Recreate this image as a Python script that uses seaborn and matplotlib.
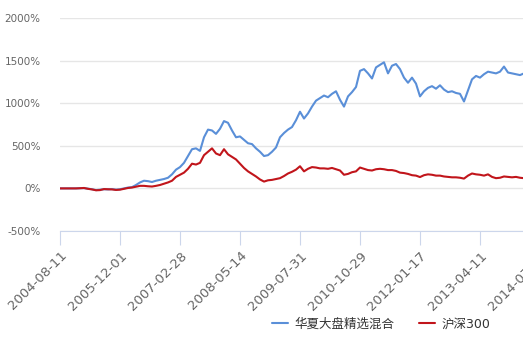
import pandas as pd
import matplotlib
matplotlib.use("Agg")
import matplotlib.pyplot as plt
import seaborn as sns

# cumulative return (%), sampled every ~20 trading days
fund_name = "华夏大盘精选混合"
index_name = "沪深300"
fund_values = [
    0, 0, 0, 0, 0, 2, 3, -3, -10, -20, -15, -10, -12, -8, -15,
    -10, 0, 10, 15, 40, 70, 90, 85, 75, 90, 100, 110, 125, 165, 220,
    250, 300, 380, 460, 470, 440, 600, 690, 680, 640, 700, 790, 770, 680, 600,
    610, 570, 530, 520, 470, 430, 380, 390, 430, 480, 600, 650, 690, 720, 800,
    900, 820, 880, 960, 1030, 1060, 1090, 1070, 1110, 1140, 1040, 960, 1080, 1130, 1190,
    1380, 1400, 1350, 1290, 1420, 1450, 1480, 1350, 1440, 1460, 1400, 1300, 1240, 1300, 1230,
    1080, 1140, 1180, 1200, 1170, 1210, 1160, 1130, 1140, 1120, 1110, 1020, 1150, 1280, 1320,
    1300, 1340, 1370, 1360, 1350, 1370, 1430, 1360, 1350, 1340, 1330, 1350,
]
index_values = [
    0, 0, 0, 0, 0, 2, 5, -5, -12, -22, -20, -8, -10, -12, -18,
    -15, -5, 5, 10, 20, 30, 30, 25, 22, 30, 40, 55, 70, 90, 135,
    160, 185, 230, 290, 280, 300, 390, 430, 470, 410, 390, 460, 400, 370, 340,
    290, 240, 200, 170, 140, 105, 80, 95, 100, 110, 120, 145, 175, 195, 220,
    260, 200, 230, 250, 245, 235, 235, 230, 240, 225, 210, 160, 170, 190, 200,
    245, 230, 215, 210, 225, 230, 225, 215, 215, 205, 185, 180, 170, 155, 150,
    133, 155, 165, 160, 150, 150, 140, 135, 130, 130, 125, 115, 150, 175, 165,
    160, 150, 165, 135, 120, 125, 140, 135, 130, 135, 125, 120,
]
tick_labels = ["2004-08-11", "2005-12-01", "2007-02-28", "2008-05-14", "2009-07-31",
               "2010-10-29", "2012-01-17", "2013-04-11", "2014-07-01"]
label_step = 15

df = pd.DataFrame({
    "point": list(range(len(fund_values))) * 2,
    "value": fund_values + index_values,
    "series": [fund_name] * len(fund_values) + [index_name] * len(index_values),
})

sns.set_style("white")
plt.rcParams["font.family"] = ["DejaVu Sans", "Noto Sans CJK SC"]

fig = plt.figure(figsize=(5.23, 3.57), dpi=100)
ax = fig.add_axes([60 / 523, 126 / 357, 484 / 523, 213 / 357])

sns.lineplot(data=df, x="point", y="value", hue="series",
             palette={fund_name: "#5a8fd8", index_name: "#c1151b"},
             linewidth=1.5, ax=ax)

ax.set_xlim(0, 121)
ax.set_ylim(-500, 2000)
ax.set_yticks(range(-500, 2001, 500))
ax.set_yticklabels([f"{v}%" for v in range(-500, 2001, 500)], color="#666666", fontsize=7.5)
ax.set_xticks(range(0, label_step * len(tick_labels), label_step))
ax.set_xticklabels(tick_labels, rotation=45, ha="right", rotation_mode="anchor",
                   color="#666666", fontsize=9.5)
ax.set_xlabel("")
ax.set_ylabel("")

ax.grid(axis="y", color="#e6e6e6", linewidth=1)
ax.set_axisbelow(True)
for side in ["left", "right", "top"]:
    ax.spines[side].set_visible(False)
ax.spines["bottom"].set_color("#ccd6eb")
ax.tick_params(axis="x", length=10, color="#ccd6eb", pad=3, bottom=True)
ax.tick_params(axis="y", length=0, pad=14)

handles, labels = ax.get_legend_handles_labels()
ax.get_legend().remove()
fig.legend(handles, labels, loc="center", bbox_to_anchor=(381 / 523, 33 / 357),
           ncol=2, frameon=False, fontsize=9, handlelength=1.3,
           handletextpad=0.5, columnspacing=2.0, labelcolor="#333333")

fig.savefig("out.png", dpi=100)
